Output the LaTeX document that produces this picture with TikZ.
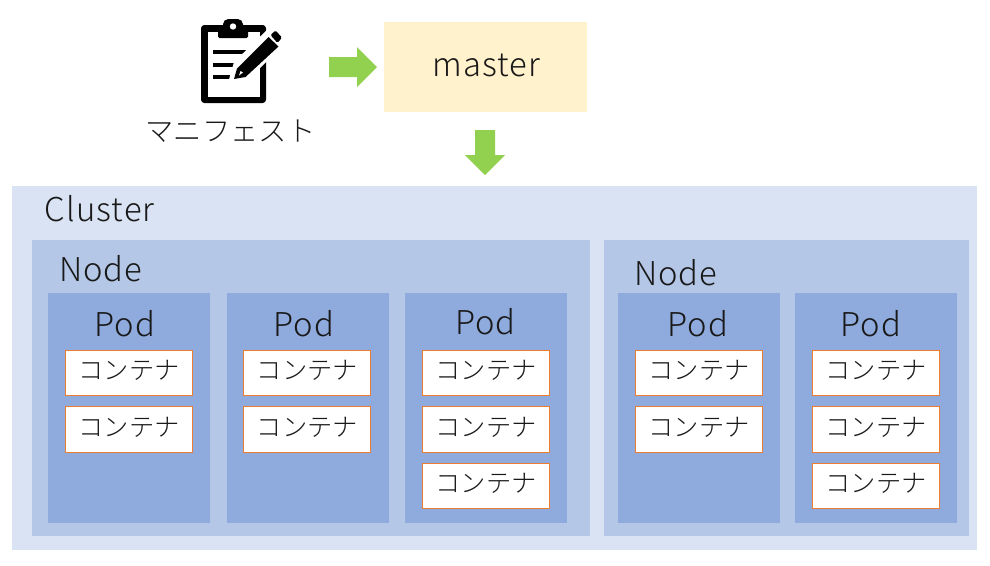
\documentclass[tikz,border=0pt]{standalone}
\usepackage{fontspec}
\setmainfont{Noto Sans CJK JP}[UprightFont=* Light]
\newfontfamily\latinlbl{Noto Sans CJK JP}[UprightFont=* Light,LetterSpace=3.5]
\newfontfamily\shortlbl{Noto Sans CJK JP}[UprightFont=* Light,LetterSpace=2.5]
\tikzset{
  x=0.75pt,y=-0.75pt,
  clusterbox/.style={fill=cluster},
  nodebox/.style={fill=nodeblue},
  podbox/.style={fill=podblue},
  ctr/.style={draw=ctrline,line width=0.8pt,fill=white,inner sep=0pt,text=black!90},
  ctrtext/.style={inner sep=0pt,anchor=base,font=\fontsize{18.9}{22}\selectfont,text=black!90},
  lbl/.style={inner sep=0pt,anchor=base,font=\latinlbl\fontsize{24.6}{28}\selectfont,text=black!90},
  shortl/.style={inner sep=0pt,anchor=base,font=\shortlbl\fontsize{24.6}{28}\selectfont,text=black!90},
  jplbl/.style={inner sep=0pt,anchor=base,font=\fontsize{21.2}{25}\selectfont,text=black!90},
  blockarrow/.style={fill=arrowgreen},
}
\definecolor{cluster}{HTML}{DAE3F3}
\definecolor{nodeblue}{HTML}{B4C7E7}
\definecolor{podblue}{HTML}{8FAADC}
\definecolor{ctrline}{HTML}{ED7D31}
\definecolor{arrowgreen}{HTML}{92D050}
\definecolor{masterfill}{HTML}{FFF2CC}
\newcommand{\ctrbox}[3]{\node[ctr,minimum width=#3*0.75pt,minimum height=45.5*0.75pt] (#1) at (#2) {};
  \node[ctrtext] (#1t) at ([yshift=-5.2pt]#1.center) {コンテナ};}
\begin{document}
\begin{tikzpicture}
\useasboundingbox (0,0) rectangle (990,565);
\fill[white] (0,0) rectangle (990,565);
% master
\fill[masterfill] (384,22) rectangle (587,112);
\node[lbl] (mastertext) at (486.5,76.5) {master};
% arrows
\fill[blockarrow] (329,57) -- (357,57) -- (357,47) -- (377,67) -- (357,87) -- (357,77) -- (329,77) -- cycle;
\fill[blockarrow] (475,130) -- (495,130) -- (495,155) -- (505,155) -- (485,175) -- (465,155) -- (475,155) -- cycle;
% clipboard
\fill[black,rounded corners=2.5pt] (201,25) rectangle (266,103);
\fill[white] (208,32) rectangle (260,97);
\fill[black,rounded corners=1pt] (218,25) rectangle (248,38);
\fill[black,rounded corners=4pt] (223,19) rectangle (243,32);
\fill[white] (233,26.5) circle (3.2);
\fill[black] (213,50) rectangle (250,54);
\fill[black] (213,63) rectangle (238,67);
\fill[black] (213,75) rectangle (231,79);
% pen halo and pen
\fill[white] (228,83) -- (234,62) -- (270,27) -- (286,38) -- (272,56) -- (245,83) -- cycle;
\fill[black] (234,79) -- (237,68.5) -- (268.5,37) -- (278.5,46.5) -- (245.5,77) -- cycle;
\fill[white] (239,75.5) -- (240.5,71) -- (243,72.5) -- cycle;
\fill[black,rounded corners=1pt] (270.5,35) -- (275.5,30.5) -- (282,37.5) -- (277.5,43) -- cycle;
\node[jplbl] (manifest) at (230.5,141) {マニフェスト};
% cluster
\fill[clusterbox] (12,186) rectangle (977,550);
\node[lbl] (clusterlabel) at (99.5,221) {Cluster};
\fill[nodebox] (32,240) rectangle (590,536);
\fill[nodebox] (604,240) rectangle (969,536);
\node[shortl] (node1label) at (100.5,281) {Node};
\node[shortl] (node2label) at (675.5,285) {Node};
\fill[podbox] (48,293) rectangle (210,523);
\fill[podbox] (227,293) rectangle (389,523);
\fill[podbox] (405,293) rectangle (567,523);
\fill[podbox] (618,293) rectangle (780,523);
\fill[podbox] (795,293) rectangle (957,523);
\node[shortl] (pod1) at (125,336) {Pod};
\node[shortl] (pod2) at (304,336) {Pod};
\node[shortl] (pod3) at (485.5,334) {Pod};
\node[shortl] (pod4) at (698,336) {Pod};
\node[shortl] (pod5) at (871,336) {Pod};
\ctrbox{a1}{129,373}{126.5}
\ctrbox{a2}{129,429.5}{126.5}
\ctrbox{b1}{307.2,373}{127.5}
\ctrbox{b2}{307.2,429.5}{127.5}
\ctrbox{c1}{486,373}{127.5}
\ctrbox{c2}{486,429.5}{127.5}
\ctrbox{c3}{486,486}{127.5}
\ctrbox{d1}{699,373}{127.5}
\ctrbox{d2}{699,429.5}{127.5}
\ctrbox{e1}{876,373}{127.5}
\ctrbox{e2}{876,429.5}{127.5}
\ctrbox{e3}{876,486}{127.5}
\end{tikzpicture}
\end{document}
